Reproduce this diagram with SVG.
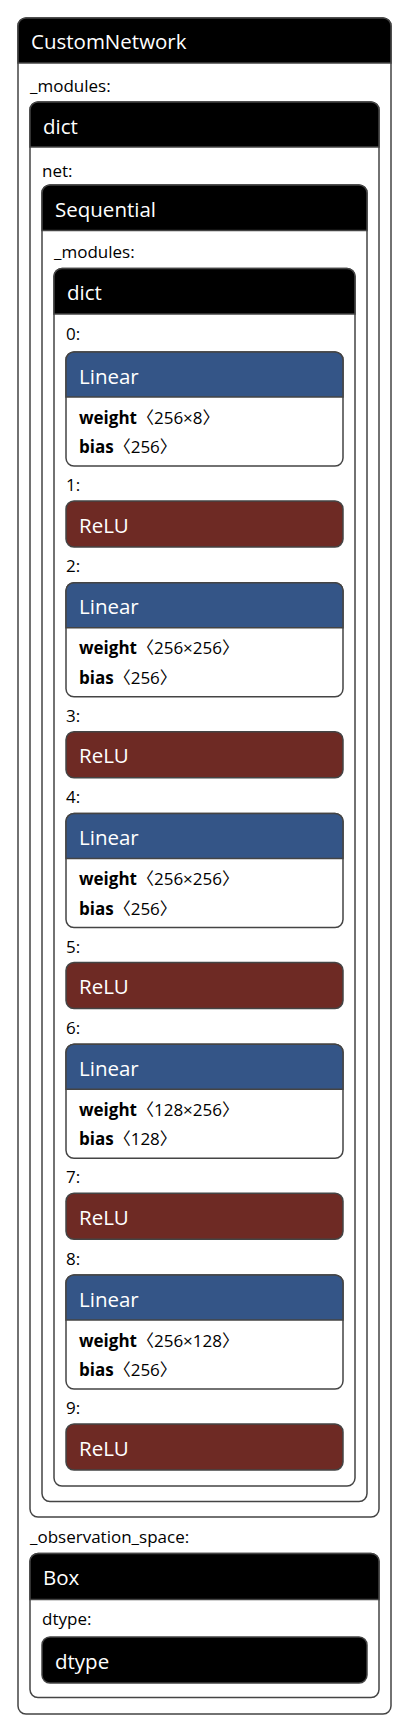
<svg xmlns="http://www.w3.org/2000/svg" width="410" height="1734" viewBox="0 0 410 1734">
<style>
.body{fill:#fff;stroke:#444;stroke-width:1.5}
.hd{stroke:#444;stroke-width:1.5}
.blk{fill:#000}
.lin{fill:#345587}
.relu{fill:#6e2a24}
.title{font-family:"Open Sans","Noto Sans",sans-serif;font-size:20.5px;fill:#fff}
.lbl{font-family:"Open Sans","Noto Sans",sans-serif;font-size:17px;fill:#000}
.attr{font-family:"Open Sans","Noto Sans","Noto Sans CJK SC",sans-serif;font-size:17px;fill:#000}
.b{font-weight:bold}
</style>
<rect width="410" height="1734" fill="#fff"/>
<g id="CustomNetwork">
<rect class="body" x="18" y="18" width="373" height="1696" rx="8"/>
<path class="hd blk" d="M18,63 V26 A8,8 0 0 1 26,18 H383 A8,8 0 0 1 391,26 V63 Z"/>
<text class="title" x="31" y="49">CustomNetwork</text>
<text class="lbl" x="30" y="91.5">_modules:</text>
<text class="lbl" x="30" y="1543">_observation_space:</text>
</g>
<g id="dict_outer">
<rect class="body" x="30" y="102" width="349" height="1415" rx="8"/>
<path class="hd blk" d="M30,147 V110 A8,8 0 0 1 38,102 H371 A8,8 0 0 1 379,110 V147 Z"/>
<text class="title" x="43" y="134">dict</text>
<text class="lbl" x="42" y="176.5">net:</text>
</g>
<g id="Sequential">
<rect class="body" x="42" y="185" width="325" height="1316.5" rx="8"/>
<path class="hd blk" d="M42,230.5 V193 A8,8 0 0 1 50,185 H359 A8,8 0 0 1 367,193 V230.5 Z"/>
<text class="title" x="55" y="216.5">Sequential</text>
<text class="lbl" x="54" y="258">_modules:</text>
</g>
<g id="dict_inner">
<rect class="body" x="54" y="268.5" width="301" height="1217.5" rx="8"/>
<path class="hd blk" d="M54,314 V276.5 A8,8 0 0 1 62,268.5 H347 A8,8 0 0 1 355,276.5 V314 Z"/>
<text class="title" x="67" y="300">dict</text>
<text class="lbl" x="66" y="340">0:</text>
<text class="lbl" x="66" y="491">1:</text>
<text class="lbl" x="66" y="572">2:</text>
<text class="lbl" x="66" y="722">3:</text>
<text class="lbl" x="66" y="803">4:</text>
<text class="lbl" x="66" y="952.5">5:</text>
<text class="lbl" x="66" y="1033.5">6:</text>
<text class="lbl" x="66" y="1183">7:</text>
<text class="lbl" x="66" y="1264.5">8:</text>
<text class="lbl" x="66" y="1414">9:</text>
</g>
<g id="Linear0">
<rect class="body" x="66" y="352" width="277" height="114" rx="8"/>
<path class="hd lin" d="M66,397 V360 A8,8 0 0 1 74,352 H335 A8,8 0 0 1 343,360 V397 Z"/>
<text class="title" x="79" y="383.5">Linear</text>
<text class="attr" x="79" y="423.5"><tspan class="b">weight</tspan>〈256×8〉</text>
<text class="attr" x="79" y="453"><tspan class="b">bias</tspan>〈256〉</text>
</g>
<g id="ReLU1">
<rect class="hd relu" x="66" y="501" width="277" height="46" rx="8"/>
<text class="title" x="79" y="532.5">ReLU</text>
</g>
<g id="Linear2">
<rect class="body" x="66" y="582.75" width="277" height="114" rx="8"/>
<path class="hd lin" d="M66,627.75 V590.75 A8,8 0 0 1 74,582.75 H335 A8,8 0 0 1 343,590.75 V627.75 Z"/>
<text class="title" x="79" y="614.25">Linear</text>
<text class="attr" x="79" y="654.25"><tspan class="b">weight</tspan>〈256×256〉</text>
<text class="attr" x="79" y="683.75"><tspan class="b">bias</tspan>〈256〉</text>
</g>
<g id="ReLU3">
<rect class="hd relu" x="66" y="731.75" width="277" height="46" rx="8"/>
<text class="title" x="79" y="763.25">ReLU</text>
</g>
<g id="Linear4">
<rect class="body" x="66" y="813.5" width="277" height="114" rx="8"/>
<path class="hd lin" d="M66,858.5 V821.5 A8,8 0 0 1 74,813.5 H335 A8,8 0 0 1 343,821.5 V858.5 Z"/>
<text class="title" x="79" y="845">Linear</text>
<text class="attr" x="79" y="885"><tspan class="b">weight</tspan>〈256×256〉</text>
<text class="attr" x="79" y="914.5"><tspan class="b">bias</tspan>〈256〉</text>
</g>
<g id="ReLU5">
<rect class="hd relu" x="66" y="962.5" width="277" height="46" rx="8"/>
<text class="title" x="79" y="994">ReLU</text>
</g>
<g id="Linear6">
<rect class="body" x="66" y="1044.25" width="277" height="114" rx="8"/>
<path class="hd lin" d="M66,1089.25 V1052.25 A8,8 0 0 1 74,1044.25 H335 A8,8 0 0 1 343,1052.25 V1089.25 Z"/>
<text class="title" x="79" y="1075.75">Linear</text>
<text class="attr" x="79" y="1115.75"><tspan class="b">weight</tspan>〈128×256〉</text>
<text class="attr" x="79" y="1145.25"><tspan class="b">bias</tspan>〈128〉</text>
</g>
<g id="ReLU7">
<rect class="hd relu" x="66" y="1193.25" width="277" height="46" rx="8"/>
<text class="title" x="79" y="1224.75">ReLU</text>
</g>
<g id="Linear8">
<rect class="body" x="66" y="1275" width="277" height="114" rx="8"/>
<path class="hd lin" d="M66,1320 V1283 A8,8 0 0 1 74,1275 H335 A8,8 0 0 1 343,1283 V1320 Z"/>
<text class="title" x="79" y="1306.5">Linear</text>
<text class="attr" x="79" y="1346.5"><tspan class="b">weight</tspan>〈256×128〉</text>
<text class="attr" x="79" y="1376"><tspan class="b">bias</tspan>〈256〉</text>
</g>
<g id="ReLU9">
<rect class="hd relu" x="66" y="1424" width="277" height="46" rx="8"/>
<text class="title" x="79" y="1455.5">ReLU</text>
</g>
<g id="Box">
<rect class="body" x="30" y="1553.5" width="349" height="144" rx="8"/>
<path class="hd blk" d="M30,1599.5 V1561.5 A8,8 0 0 1 38,1553.5 H371 A8,8 0 0 1 379,1561.5 V1599.5 Z"/>
<text class="title" x="43" y="1585">Box</text>
<text class="lbl" x="42" y="1625">dtype:</text>
</g>
<g id="dtype">
<rect class="hd blk" x="42" y="1637" width="325" height="46" rx="8"/>
<text class="title" x="55" y="1668.5">dtype</text>
</g>
<g id="connectors"/>
</svg>
